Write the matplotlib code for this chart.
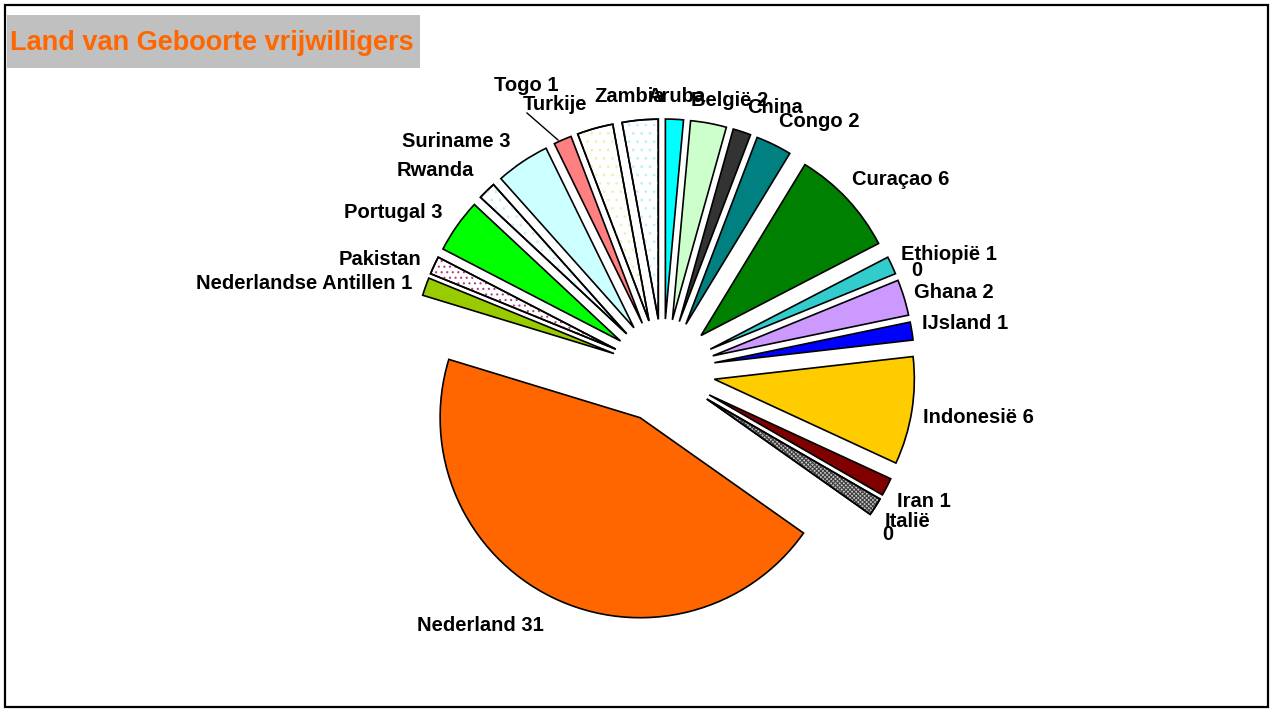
import matplotlib
matplotlib.use("Agg")
import matplotlib.pyplot as plt
from matplotlib.patches import Wedge, Rectangle

# ---------------- data ----------------
categories = ['Aruba', 'België', 'China', 'Congo', 'Curaçao', 'Ethiopië', '',
              'Ghana', 'IJsland', 'Indonesië', 'Iran', 'Italië', '',
              'Nederland', 'Nederlandse Antillen', 'Pakistan', 'Portugal',
              'Rwanda', 'Suriname', 'Togo', 'Turkije', 'Zambia']
values = [1, 2, 1, 2, 6, 1, 0, 2, 1, 6, 1, 1, 0, 31, 1, 1, 3, 1, 3, 1, 2, 2]
show_value = [False, True, False, True, True, True, True, True, True, True, True,
              False, True, True, True, False, True, False, True, True, False, False]
title = 'Land van Geboorte vrijwilligers'

# ---------------- styles ----------------
colors = ['#00FFFF', '#CCFFCC', '#333333', '#008080', '#008000', '#33CCCC', '#FFFFFF',
          '#CC99FF', '#0000FF', '#FFCC00', '#800000', '#C8C8C8', '#FFFFFF',
          '#FF6600', '#99CC00', '#FFFFFF', '#00FF00',
          '#FFFFFF', '#CCFFFF', '#FF8080', '#FFFFFF', '#FFFFFF']
# (hatch pattern, hatch colour) for patterned slices
hatches = {'Italië': ('xxxxxxxx', '#404040'),
           'Pakistan': ('...', '#B0407A'),
           'Rwanda': ('..', '#BFEFFF'),
           'Turkije': ('..', '#F5F0B0'),
           'Zambia': ('..', '#BFEFFF')}

W, H = 1270, 709
# label anchor positions in pixel layout (x, baseline y from top, alignment)
label_pos = [(647, 102, 'left'), (691, 106, 'left'), (747, 113, 'left'), (779, 127, 'left'),
             (852, 185, 'left'), (901, 260, 'left'), (911, 276, 'left'), (914, 298, 'left'),
             (922, 329, 'left'), (923, 423, 'left'), (897, 507, 'left'), (885, 527, 'left'),
             (882, 540, 'left'), (417, 631, 'left'), (412, 289, 'right'), (421, 265, 'right'),
             (443, 218, 'right'), (474, 176, 'right'), (510, 147, 'right'), (494, 91, 'left'),
             (523, 110, 'left'), (594, 102, 'left')]

plt.rcParams['hatch.linewidth'] = 0.8
fig = plt.figure(figsize=(W / 100, H / 100), dpi=100)
ax = fig.add_axes([0, 0, 1, 1])

center = (663, H - 371)
radius = 200
explode_frac = 0.26
wedges, _ = ax.pie(values, colors=colors, startangle=90, counterclock=False,
                   explode=[explode_frac * radius] * len(values), radius=radius, center=center,
                   wedgeprops=dict(edgecolor='black', linewidth=1.2))
ax.set_xlim(0, W)
ax.set_ylim(0, H)
ax.set_aspect('equal')
ax.axis('off')

for w, cat, v in zip(wedges, categories, values):
    if v == 0:
        w.set_visible(False)
        continue
    if cat in hatches:
        pat, hc = hatches[cat]
        hp = Wedge(w.center, w.r, w.theta1, w.theta2, facecolor='none',
                   edgecolor=hc, linewidth=0, hatch=pat, zorder=w.get_zorder() + 0.1)
        ax.add_patch(hp)
        op = Wedge(w.center, w.r, w.theta1, w.theta2, facecolor='none',
                   edgecolor='black', linewidth=1.2, zorder=w.get_zorder() + 0.2)
        ax.add_patch(op)

# data labels
for cat, v, sv, (lx, ly, ha) in zip(categories, values, show_value, label_pos):
    if cat == '':
        txt = str(v)
    elif sv:
        txt = f'{cat} {v}'
    else:
        txt = cat
    ax.text(lx, H - ly, txt, ha=ha, va='baseline', fontsize=14.5, fontweight='bold',
            family='Liberation Sans', color='black', zorder=10)

# leader line for Togo
ax.plot([527, 558], [H - 113, H - 140], color='black', lw=1.0, zorder=9)

# title box
ax.add_patch(Rectangle((7, H - 68), 413, 53, facecolor='#C0C0C0', edgecolor='none', zorder=5))
ax.text(10, H - 50, title, ha='left', va='baseline', fontsize=19.5, fontweight='bold',
        family='Liberation Sans', color='#FF6600', zorder=6)

# outer frame
ax.add_patch(Rectangle((5, H - 707), 1263, 702, facecolor='none', edgecolor='black',
                       linewidth=1.6, zorder=11))

fig.savefig('out.png', dpi=100)
